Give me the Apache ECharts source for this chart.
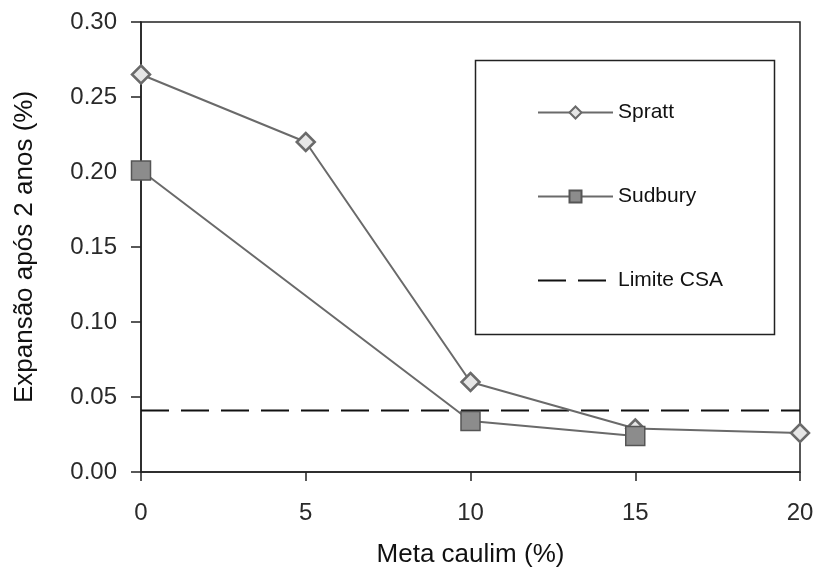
<!DOCTYPE html>
<html><head><meta charset="utf-8">
<script src="https://cdn.jsdelivr.net/npm/echarts@6/dist/echarts.min.js"></script>
<style>html,body{margin:0;padding:0;background:#fff}#c{width:817px;height:573px}</style>
</head><body><div id="c"></div>
<script>
var sprattX = [0, 5, 10, 15, 20];
var sprattY = [0.265, 0.220, 0.060, 0.029, 0.026];
var sudburyX = [0, 10, 15];
var sudburyY = [0.201, 0.034, 0.024];
var limitX = [0, 20];
var limitY = [0.041, 0.041];
var xTicks = [0, 5, 10, 15, 20];
var yTicks = [0.00, 0.05, 0.10, 0.15, 0.20, 0.25, 0.30];

function pairs(xs, ys){ return xs.map(function(x,i){return [x, ys[i]];}); }

var chart = echarts.init(document.getElementById('c'));
var font = 'Liberation Sans, Arial, sans-serif';
chart.setOption({
  animation: false,
  backgroundColor: '#fff',
  grid: {left: 141, right: 17, top: 22, bottom: 100, show: true, borderColor: '#222', borderWidth: 1.5},
  xAxis: {
    type: 'value', min: xTicks[0], max: xTicks[xTicks.length-1], interval: 5,
    name: 'Meta caulim (%)', nameLocation: 'middle', nameGap: 70,
    nameTextStyle: {fontFamily: font, fontSize: 26, color: '#111'},
    axisLine: {lineStyle: {color: '#222', width: 1.5}},
    axisTick: {inside: false, length: 9, lineStyle: {color: '#222', width: 1.5}},
    axisLabel: {fontFamily: font, fontSize: 24, color: '#2a2a2a', margin: 29},
    splitLine: {show: false}
  },
  yAxis: {
    type: 'value', min: yTicks[0], max: yTicks[yTicks.length-1], interval: 0.05,
    name: 'Expansão após 2 anos (%)', nameLocation: 'middle', nameGap: 103,
    nameTextStyle: {fontFamily: font, fontSize: 26, color: '#111'},
    axisLine: {lineStyle: {color: '#222', width: 1.5}},
    axisTick: {inside: false, length: 10, lineStyle: {color: '#222', width: 1.5}},
    axisLabel: {fontFamily: font, fontSize: 24, color: '#2a2a2a', margin: 24,
      formatter: function(v){ return v.toFixed(2); }},
    splitLine: {show: false}
  },
  legend: {
    orient: 'vertical', left: 532, top: 97, itemGap: 63,
    itemWidth: 75, itemHeight: 15,
    textStyle: {fontFamily: font, fontSize: 21, color: '#111', padding: [0,0,0,0]},
    data: ['Spratt', 'Sudbury', {name: 'Limite CSA', itemStyle: {opacity: 0, borderWidth: 0}}]
  },
  graphic: [{
    type: 'rect', left: 473, top: 58,
    shape: {width: 299, height: 274},
    style: {fill: 'none', stroke: '#222', lineWidth: 1.5}
  }],
  series: [
    {name: 'Spratt', type: 'line', data: pairs(sprattX, sprattY),
     symbol: 'diamond', symbolSize: 18,
     lineStyle: {color: '#6a6a6a', width: 2},
     itemStyle: {color: '#e6e6e6', borderColor: '#6a6a6a', borderWidth: 2.5},
     z: 3},
    {name: 'Sudbury', type: 'line', data: pairs(sudburyX, sudburyY),
     symbol: 'rect', symbolSize: 19,
     lineStyle: {color: '#6a6a6a', width: 2},
     itemStyle: {color: '#8c8c8c', borderColor: '#555', borderWidth: 1.5},
     z: 4},
    {name: 'Limite CSA', type: 'line', data: pairs(limitX, limitY),
     symbol: 'none',
     lineStyle: {color: '#111', width: 2, type: [28, 12]},
     itemStyle: {color: '#111'},
     z: 2}
  ]
});
</script></body></html>
